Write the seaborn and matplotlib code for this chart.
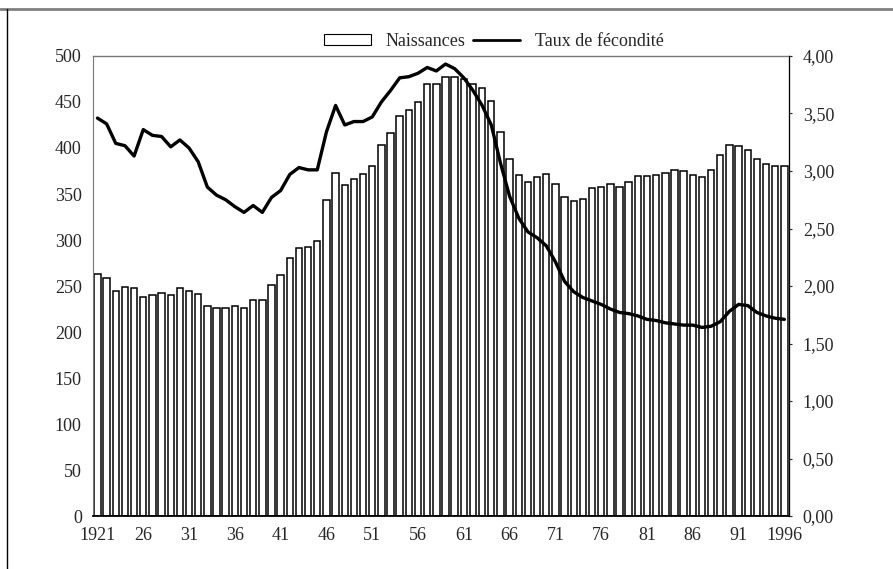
import numpy as np
import pandas as pd
import matplotlib
matplotlib.use("Agg")
import matplotlib.pyplot as plt
import seaborn as sns
from matplotlib.patches import Patch
from matplotlib.lines import Line2D

# births (thousands) and total fertility rate, 1921-1996
annees = list(range(1921, 1997))
naissances = [
    263, 259, 245, 249, 248, 238, 240, 242, 240, 248,
    245, 241, 228, 226, 226, 228, 226, 235, 235, 251,
    262, 280, 291, 292, 299, 343, 373, 360, 366, 372,
    380, 403, 416, 435, 441, 450, 470, 470, 477, 477,
    475, 470, 465, 451, 417, 388, 371, 363, 369, 372,
    361, 347, 342, 345, 356, 358, 361, 358, 363, 370,
    370, 371, 373, 376, 375, 371, 369, 376, 392, 403,
    402, 398, 388, 383, 380, 380,
]
fecondite = [
    3.46, 3.41, 3.24, 3.22, 3.13, 3.36, 3.31, 3.30, 3.21, 3.27,
    3.20, 3.08, 2.86, 2.79, 2.75, 2.69, 2.64, 2.70, 2.64, 2.77,
    2.83, 2.97, 3.03, 3.01, 3.01, 3.34, 3.57, 3.40, 3.43, 3.43,
    3.47, 3.60, 3.70, 3.81, 3.82, 3.85, 3.90, 3.87, 3.93, 3.89,
    3.81, 3.70, 3.57, 3.40, 3.07, 2.78, 2.59, 2.47, 2.42, 2.35,
    2.21, 2.04, 1.95, 1.90, 1.87, 1.84, 1.80, 1.77, 1.76, 1.74,
    1.71, 1.70, 1.68, 1.67, 1.66, 1.66, 1.64, 1.65, 1.69, 1.78,
    1.84, 1.83, 1.77, 1.74, 1.72, 1.71,
]
etiquettes = ["1921", "26", "31", "36", "41", "46", "51", "56", "61",
              "66", "71", "76", "81", "86", "91", "1996"]

df = pd.DataFrame({"annee": [str(a) for a in annees],
                   "naissances": naissances,
                   "fecondite": fecondite})

sns.set_style("white")
plt.rcParams["font.family"] = ["Liberation Serif", "DejaVu Serif"]
plt.rcParams["font.size"] = 13

fig = plt.figure(figsize=(8.93, 5.69), dpi=100)
ax = fig.add_axes([0.104, 0.0931, 0.7795, 0.8085])

sns.barplot(data=df, x="annee", y="naissances", color="white", saturation=1,
            edgecolor="black", linewidth=1.1, width=0.7, ax=ax)
ax.set_xlim(-0.5, len(annees) - 0.5)
ax.set_ylim(0, 500)
ax.set_yticks(range(0, 501, 50))
ax.set_xticks(range(0, len(annees), 5))
ax.set_xticklabels(etiquettes)
ax.set_xticks(np.arange(-0.5, len(annees), 1), minor=True)
ax.tick_params(axis="x", which="major", length=4, color="#555555", pad=4)
ax.tick_params(axis="x", which="minor", length=3, color="#888888")
ax.tick_params(axis="y", length=0, pad=8)
ax.set_xlabel("")
ax.set_ylabel("")
for s in ["top", "right"]:
    ax.spines[s].set_color("#777777")
    ax.spines[s].set_linewidth(1.0)
ax.spines["left"].set_color("#777777")
ax.spines["bottom"].set_color("black")
ax.spines["bottom"].set_linewidth(1.3)

ax2 = ax.twinx()
sns.lineplot(x=np.arange(len(annees)), y=df["fecondite"], color="black",
             linewidth=2.4, ax=ax2)
ax2.set_ylim(0, 4)
ax2.set_yticks(np.arange(0, 4.01, 0.5))
ax2.set_yticklabels([f"{v:.2f}".replace(".", ",") for v in np.arange(0, 4.01, 0.5)])
ax2.tick_params(axis="y", length=2, pad=8)
ax2.set_ylabel("")
ax2.spines["right"].set_color("black")
for s in ["top", "left", "bottom"]:
    ax2.spines[s].set_visible(False)

handles = [Patch(facecolor="white", edgecolor="black", linewidth=0.8),
           Line2D([0], [0], color="black", linewidth=2.0)]
fig.legend(handles, ["Naissances", "Taux de fécondité"], loc="center",
           bbox_to_anchor=(0.553, 0.927), ncol=2, frameon=False,
           handlelength=2.6, handleheight=0.6, columnspacing=0.45,
           handletextpad=0.8, fontsize=13)

# page frame lines (top and left)
fig.add_artist(Line2D([0, 1], [0.984, 0.984], color="#808080", linewidth=2,
                      transform=fig.transFigure))
fig.add_artist(Line2D([0.0075, 0.0075], [0, 0.984], color="black", linewidth=1,
                      transform=fig.transFigure))

fig.savefig("out.png", dpi=100)
